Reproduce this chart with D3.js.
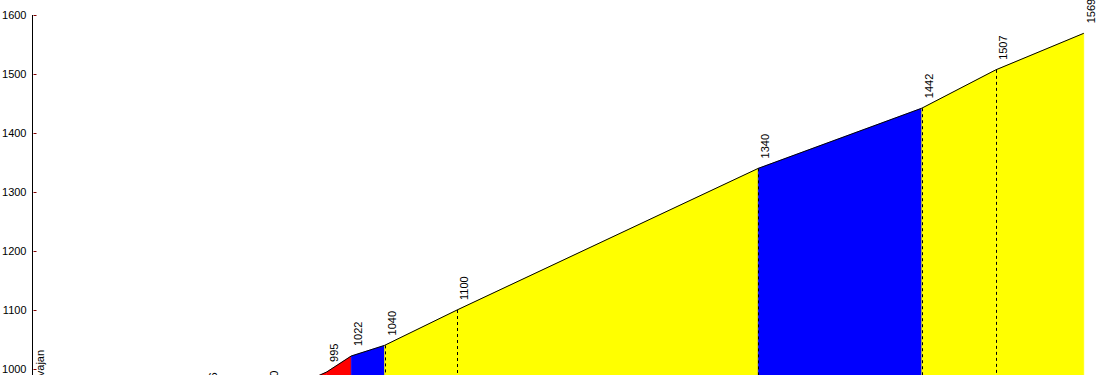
<!DOCTYPE html>
<html>
<head>
<meta charset="utf-8">
<script src="https://cdn.jsdelivr.net/npm/d3@7"></script>
<style>
  body { margin: 0; background: #fff; }
  svg { display: block; }
  text { font-family: "Liberation Sans", Arial, sans-serif; font-size: 11px; fill: #000; }
</style>
</head>
<body>
<div id="chart"></div>
<script>
// Data (distance in km, elevation in m)
var distances = [0, 2.34, 3.16, 3.97, 4.30, 4.75, 5.73, 9.80, 12.01, 13.01, 14.2];
var elevations = [948, 946, 949, 995, 1022, 1040, 1100, 1340, 1442, 1507, 1569];
var pointLabels = ["Kavajan", "946", "950", "995", "1022", "1040", "1100", "1340", "1442", "1507", "1569"];
// colour of the segment that starts at each point
var segmentColors = ["yellow", "yellow", "red", "red", "blue", "yellow", "yellow", "blue", "yellow", "yellow"];
var dashedAt = [false, false, false, false, false, true, true, true, true, true, false];
var yTicks = [1000, 1100, 1200, 1300, 1400, 1500, 1600];

var colorMap = { yellow: "#ffff00", blue: "#0000ff", red: "#ff0000" };

var width = 1102, height = 375;
var bottom = 420;

var x = d3.scaleLinear().domain([0, 14.2]).range([33, 1083.8]);
var y = d3.scaleLinear().domain([1000, 1600]).range([369, 15]);

var svg = d3.select("#chart").append("svg")
  .attr("width", width)
  .attr("height", height);

var pts = distances.map(function(d, i) {
  return { d: d, e: elevations[i], label: pointLabels[i], dashed: dashedAt[i] };
});

// coloured segments
for (var i = 0; i < pts.length - 1; i++) {
  var a = pts[i], b = pts[i + 1];
  var poly = [[x(a.d), y(a.e)], [x(b.d), y(b.e)], [x(b.d), bottom], [x(a.d), bottom]];
  svg.append("polygon")
    .attr("points", poly.map(function(p) { return p.join(","); }).join(" "))
    .attr("fill", colorMap[segmentColors[i]])
    .attr("stroke", colorMap[segmentColors[i]])
    .attr("stroke-width", 0.5);
}

// dashed verticals
svg.selectAll("line.drop")
  .data(pts.filter(function(p) { return p.dashed; }))
  .enter().append("line")
  .attr("class", "drop")
  .attr("x1", function(p) { return Math.round(x(p.d)) + 0.5; })
  .attr("x2", function(p) { return Math.round(x(p.d)) + 0.5; })
  .attr("y1", function(p) { return y(p.e); })
  .attr("y2", bottom)
  .attr("stroke", "#000")
  .attr("stroke-width", 1)
  .attr("stroke-dasharray", "3,3");

// profile outline
var line = d3.line()
  .x(function(p) { return x(p.d); })
  .y(function(p) { return y(p.e); });

svg.append("path")
  .datum(pts)
  .attr("d", line)
  .attr("fill", "none")
  .attr("stroke", "#000")
  .attr("stroke-width", 1);

// point labels (rotated)
svg.selectAll("text.lbl")
  .data(pts)
  .enter().append("text")
  .attr("class", "lbl")
  .attr("transform", function(p) {
    return "translate(" + (x(p.d) + 11) + "," + (y(p.e) - 10) + ") rotate(-90)";
  })
  .text(function(p) { return p.label; });

// y axis
var axis = d3.axisLeft(y)
  .tickValues(yTicks)
  .tickSize(0)
  .tickPadding(6)
  .tickFormat(d3.format("d"));

var g = svg.append("g")
  .attr("transform", "translate(32.5,0)")
  .call(axis);

g.select(".domain").remove();
g.selectAll("text")
  .style("font-family", "Liberation Sans, Arial, sans-serif")
  .style("font-size", "11px")
  .attr("fill", "#000");

g.append("line")
  .attr("x1", 0).attr("x2", 0)
  .attr("y1", y(1600)).attr("y2", bottom)
  .attr("stroke", "#000");

g.selectAll("line.tk")
  .data(yTicks)
  .enter().append("line")
  .attr("class", "tk")
  .attr("x1", 1).attr("x2", 4)
  .attr("y1", function(t) { return Math.round(y(t)) + 0.5; })
  .attr("y2", function(t) { return Math.round(y(t)) + 0.5; })
  .attr("stroke", "#800000");
</script>
</body>
</html>
